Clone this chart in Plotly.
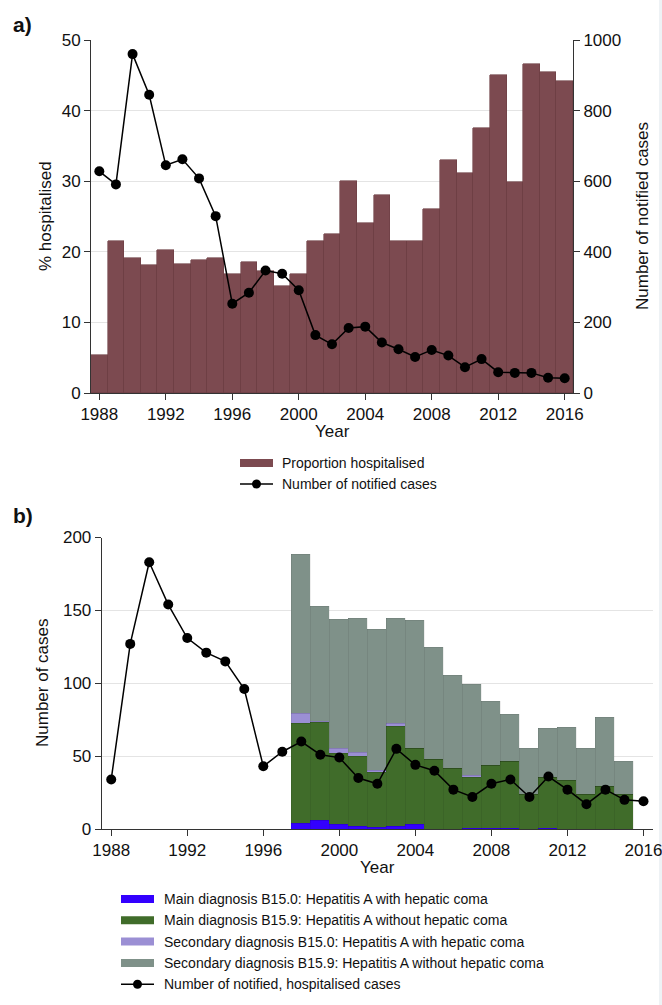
import plotly.graph_objects as go

# ---------------- data ----------------
years_a = list(range(1988, 2017))
pct_hospitalised = [5.4, 21.5, 19.1, 18.2, 20.3, 18.3, 18.9, 19.1, 16.9, 18.6,
                    17.3, 15.1, 16.8, 21.5, 22.5, 30.0, 24.1, 28.0, 21.6, 21.5,
                    26.0, 33.0, 31.1, 37.5, 45.0, 29.9, 46.6, 45.5, 44.2]
notified_cases = [628, 591, 960, 845, 645, 662, 608, 501, 253, 284,
                  347, 338, 291, 164, 138, 184, 188, 143, 124, 102,
                  122, 106, 73, 96, 59, 57, 57, 43, 42]

years_line_b = list(range(1988, 2017))
notified_hospitalised = [34, 127, 183, 154, 131, 121, 115, 96, 43, 53,
                         60, 51, 49, 35, 31, 55, 44, 40, 27, 22,
                         31, 34, 22, 36, 27, 17, 27, 20, 19]

years_bars_b = list(range(1998, 2016))
main_b150 = [3.5, 5.5, 3, 2, 1, 2, 3, 0, 0, 0.5, 0.5, 0.5, 0, 0.5, 0, 0, 0, 0]
main_b159 = [69, 67.5, 49, 47.5, 38, 68.5, 52, 47.5, 41.5, 35, 43, 46, 24, 34.5, 33.5, 23.5, 29.5, 23.5]
sec_b150 = [7, 1, 3, 3, 1, 2, 0, 0, 0, 1, 0, 0, 0, 0, 0, 0, 0, 0]
sec_b159 = [109, 79, 88.5, 92, 97, 72, 88, 77, 64, 62.5, 44, 32, 31, 34, 36, 32, 47, 23]

year_ticks = [1988, 1992, 1996, 2000, 2004, 2008, 2012, 2016]

# ---------------- styles ----------------
W, H = 662, 1005
FONT = "Liberation Sans, Arial, sans-serif"
TXT = "#111111"
AX = "#333333"
GRID = "#e4e4e4"
C_PROP = "#7c4a50"
C_MAIN0 = "#3300ff"
C_MAIN9 = "#406c2a"
C_SEC0 = "#9b8fd4"
C_SEC9 = "#7f9189"


def px_x(p):
    return p / W


def px_y(p):
    return 1 - p / H


fig = go.Figure()

# ---- panel a ----
fig.add_trace(go.Bar(x=years_a, y=pct_hospitalised, width=1,
                     marker=dict(color=C_PROP, line=dict(color="#6c3d43", width=0.6)),
                     name="Proportion hospitalised", xaxis="x", yaxis="y",
                     showlegend=False))
fig.add_trace(go.Scatter(x=years_a, y=notified_cases, mode="lines+markers",
                         line=dict(color="black", width=1.5),
                         marker=dict(color="black", size=10),
                         name="Number of notified cases", xaxis="x", yaxis="y2",
                         showlegend=False))

# ---- panel b ----
for vals, col, nm in [(main_b150, C_MAIN0, "Main diagnosis B15.0: Hepatitis A with hepatic coma"),
                      (main_b159, C_MAIN9, "Main diagnosis B15.9: Hepatitis A without hepatic coma"),
                      (sec_b150, C_SEC0, "Secondary diagnosis B15.0: Hepatitis A with hepatic coma"),
                      (sec_b159, C_SEC9, "Secondary diagnosis B15.9: Hepatitis A without hepatic coma")]:
    fig.add_trace(go.Bar(x=years_bars_b, y=vals, width=1,
                         marker=dict(color=col, line=dict(color="rgba(0,0,0,0.12)", width=0.6)),
                         name=nm, xaxis="x2", yaxis="y3", showlegend=False))
fig.add_trace(go.Scatter(x=years_line_b, y=notified_hospitalised, mode="lines+markers",
                         line=dict(color="black", width=1.5),
                         marker=dict(color="black", size=10),
                         name="Number of notified, hospitalised cases",
                         xaxis="x2", yaxis="y3", showlegend=False))

axis_common = dict(showline=True, linecolor=AX, linewidth=1, ticks="outside",
                   ticklen=6, tickwidth=1, tickcolor=AX, zeroline=False,
                   ticklabeloverflow="allow",
                   tickfont=dict(family=FONT, size=17, color=TXT))

fig.update_layout(
    width=W, height=H,
    margin=dict(l=0, r=0, t=0, b=0, autoexpand=False),
    paper_bgcolor="white", plot_bgcolor="white",
    barmode="stack", bargap=0,
    font=dict(family=FONT, color=TXT),
    showlegend=False,
    xaxis=dict(domain=[px_x(91), px_x(573)], anchor="y", range=[1987.5, 2016.5],
               tickvals=year_ticks, showgrid=False, **axis_common),
    yaxis=dict(domain=[px_y(393), px_y(40)], anchor="x", range=[0, 50],
               tickvals=[0, 10, 20, 30, 40, 50], showgrid=True, gridcolor=GRID,
               gridwidth=1, **axis_common),
    yaxis2=dict(overlaying="y", side="right", anchor="x", range=[0, 1000],
                tickvals=[0, 200, 400, 600, 800, 1000], showgrid=False, **axis_common),
    xaxis2=dict(domain=[px_x(101.7), px_x(653)], anchor="y3", range=[1987.5, 2016.5],
                tickvals=year_ticks, showgrid=False, **axis_common),
    yaxis3=dict(domain=[px_y(829), px_y(537.5)], anchor="x2", range=[0, 200],
                tickvals=[0, 50, 100, 150, 200], showgrid=True, gridcolor=GRID,
                gridwidth=1, **axis_common),
)

ann = []


def text(x, y, s, size=17, angle=0, xanchor="center", bold=False):
    ann.append(dict(x=px_x(x), y=px_y(y), xref="paper", yref="paper",
                    text=("<b>%s</b>" % s) if bold else s, showarrow=False,
                    textangle=angle, xanchor=xanchor, yanchor="middle",
                    font=dict(family=FONT, size=size, color=TXT)))


# panel labels and axis titles
text(11, 25, "a)", size=21, xanchor="left", bold=True)
text(11, 515, "b)", size=21, xanchor="left", bold=True)
text(45, 216, "% hospitalised", angle=-90)
text(642, 216, "Number of notified cases", angle=-90)
text(332, 431, "Year")
text(42, 683, "Number of cases", angle=-90)
text(377, 867, "Year")

shapes = []


def swatch(x0, x1, yc, color, h=8):
    shapes.append(dict(type="rect", xref="paper", yref="paper",
                       x0=px_x(x0), x1=px_x(x1), y0=px_y(yc + h / 2), y1=px_y(yc - h / 2),
                       fillcolor=color, line=dict(width=0)))


def line_sym(x0, x1, yc):
    shapes.append(dict(type="line", xref="paper", yref="paper",
                       x0=px_x(x0), x1=px_x(x1), y0=px_y(yc), y1=px_y(yc),
                       line=dict(color="black", width=1.5)))
    xm = (x0 + x1) / 2
    r = 4.5
    shapes.append(dict(type="circle", xref="paper", yref="paper",
                       x0=px_x(xm - r), x1=px_x(xm + r), y0=px_y(yc + r), y1=px_y(yc - r),
                       fillcolor="black", line=dict(width=0)))


# legend a
swatch(240, 273, 463, C_PROP)
text(280, 463, "Proportion hospitalised", size=14, xanchor="left")
line_sym(240, 273, 484)
text(280, 484, "Number of notified cases", size=14, xanchor="left")

# legend b
leg_b = [(C_MAIN0, "Main diagnosis B15.0: Hepatitis A with hepatic coma"),
         (C_MAIN9, "Main diagnosis B15.9: Hepatitis A without hepatic coma"),
         (C_SEC0, "Secondary diagnosis B15.0: Hepatitis A with hepatic coma"),
         (C_SEC9, "Secondary diagnosis B15.9: Hepatitis A without hepatic coma")]
rows = [899, 920.3, 941.6, 962.9, 984.2]
for (col, lab), yc in zip(leg_b, rows):
    swatch(121, 154, yc, col)
    text(162, yc, lab, size=14, xanchor="left")
line_sym(121, 154, rows[4])
text(162, rows[4], "Number of notified, hospitalised cases", size=14, xanchor="left")

# faint strip at right edge
shapes.append(dict(type="rect", xref="paper", yref="paper", x0=px_x(659), x1=1.0,
                   y0=0, y1=1, fillcolor="#eef2f5", line=dict(width=0), layer="below"))

fig.update_layout(annotations=ann, shapes=shapes)

fig.write_html("out.html", config={"displayModeBar": False},
               post_script="document.body.style.margin='0';document.body.style.overflow='hidden';")
